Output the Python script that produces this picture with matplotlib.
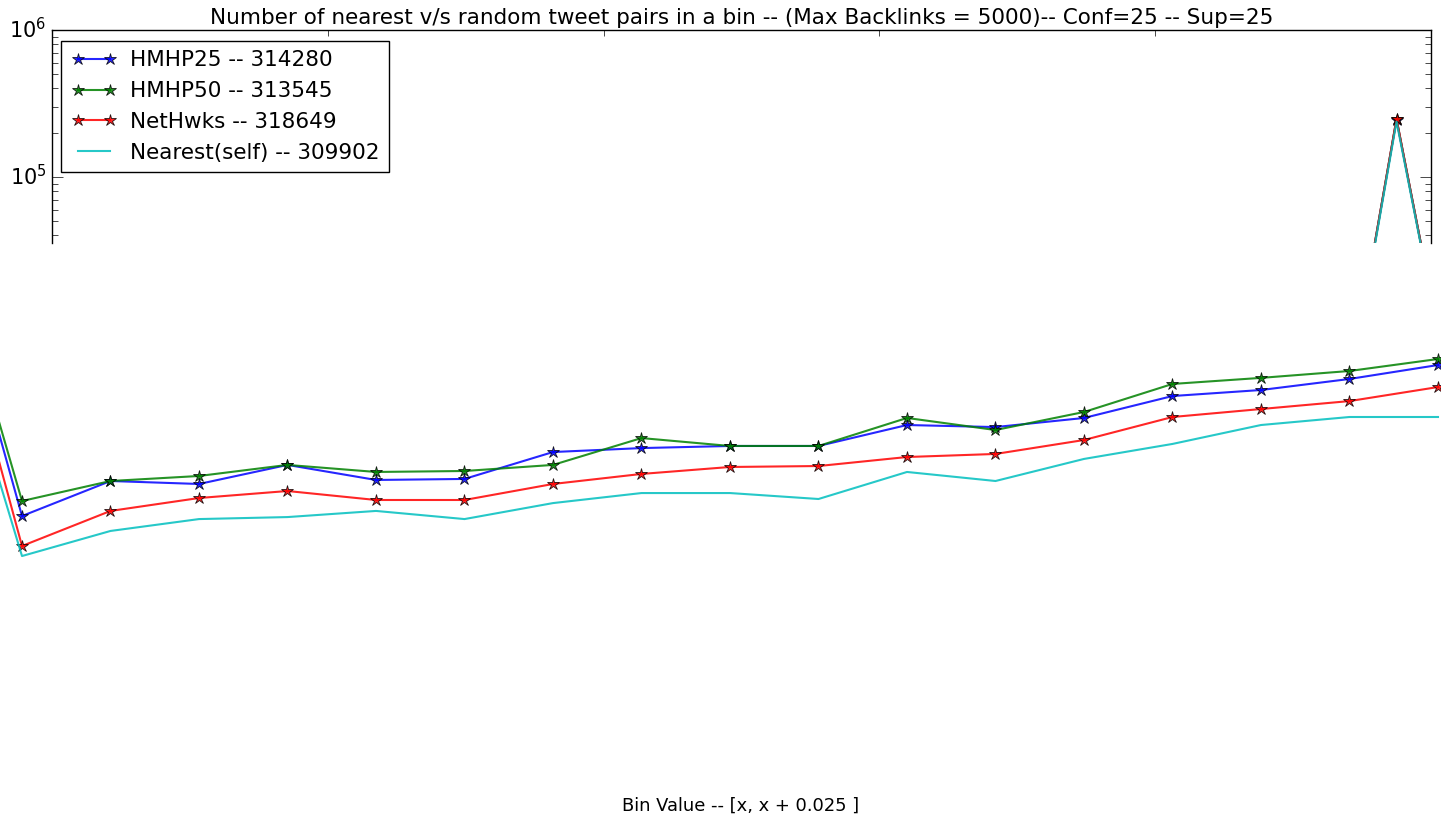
import numpy as np
import matplotlib
matplotlib.use("Agg")
import matplotlib.pyplot as plt

plt.style.use("classic")
plt.rcParams["figure.facecolor"] = "white"
plt.rcParams["savefig.facecolor"] = "white"
plt.rcParams["mathtext.fontset"] = "dejavusans"
plt.rcParams["font.family"] = "DejaVu Sans"

# series names and totals shown in the legend
names = ["HMHP25 -- 314280", "HMHP50 -- 313545", "NetHwks -- 318649", "Nearest(self) -- 309902"]
colors = ["b", "g", "r", "c"]
markers = ["*", "*", "*", None]

# upper panel: the last bins around the spike (bin value, count)
spike_bins = [0.95, 0.975, 1.0]
spike_hmhp25 = [11300, 246000, 15700]
spike_hmhp50 = [11300, 247000, 15700]
spike_nethwks = [11300, 249000, 15700]
spike_nearest = [11000, 238000, 15400]

# lower panel: the run of bins drawn below the frame (bin index, count)
run_bins = list(range(-1, 17))
run_hmhp25 = [71900, 494, 855, 816, 1100, 869, 883, 1346, 1432, 1480, 1480,
              2055, 1990, 2295, 3236, 3556, 4227, 5260]
run_hmhp50 = [74300, 625, 855, 925, 1100, 985, 1000, 1100, 1675, 1480, 1480,
              2295, 1900, 2520, 3910, 4300, 4790, 5780]
run_nethwks = [50900, 309, 535, 655, 731, 635, 635, 816, 955, 1065, 1081,
               1245, 1306, 1625, 2330, 2640, 2990, 3725]
run_nearest = [26000, 264, 391, 471, 486, 535, 471, 605, 708, 708, 645,
               985, 855, 1208, 1528, 2055, 2330, 2330]

W, H = 1441, 822
fig = plt.figure(figsize=(W / 100, H / 100), dpi=100)

# top framed axes (pixel box 52..1431 x 30..243)
ax = fig.add_axes([52 / W, 1 - 243 / H, (1431 - 52) / W, (243 - 30) / H])
# lower frameless axes (pixel box 0..1441 x 243..790)
ax2 = fig.add_axes([0, 1 - 790 / H, 1, (790 - 243) / H], frameon=False)

spike = [spike_hmhp25, spike_hmhp50, spike_nethwks, spike_nearest]
run = [run_hmhp25, run_hmhp50, run_nethwks, run_nearest]

for name, c, m, ys in zip(names, colors, markers, spike):
    ax.plot(spike_bins, ys, color=c, marker=m, markersize=9, lw=1.5,
            markeredgecolor="k", markeredgewidth=0.6, label=name, alpha=0.85)
for c, m, ys in zip(colors, markers, run):
    ax2.plot(run_bins, ys, color=c, marker=m, markersize=9, lw=1.5,
             markeredgecolor="k", markeredgewidth=0.6, alpha=0.85)

ax.set_yscale("log")
ax.set_xlim(0, 1.0)
ax.set_ylim(10 ** 4.551, 1e6)
ax.set_xticks([0.2, 0.4, 0.6, 0.8])
ax.tick_params(axis="x", which="both", bottom=False, labelbottom=False, top=True)
ax.tick_params(axis="y", which="major", labelsize=15, length=8)
ax.tick_params(axis="y", which="minor", length=4)
ax.spines["bottom"].set_visible(False)
ax.set_title("Number of nearest v/s random tweet pairs in a bin -- (Max Backlinks = 5000)-- Conf=25 -- Sup=25",
             fontsize=15.5, pad=4)

leg = ax.legend(loc="upper left", fontsize=15.5, numpoints=2, fancybox=False,
                bbox_to_anchor=(-0.001, 1.0), borderaxespad=0.5, borderpad=0.45,
                handlelength=2.1, handletextpad=0.65, labelspacing=0.5)
leg.get_frame().set_edgecolor("k")

ax2.set_yscale("log")
ax2.set_xlim(-22 / 88.5, (W - 22) / 88.5)
ax2.set_ylim(10 ** 0.830, 10 ** 4.551)
ax2.set_xticks([])
ax2.set_yticks([])
ax2.minorticks_off()

fig.text(741 / W, 1 - 806 / H, "Bin Value -- [x, x + 0.025 ]", ha="center",
         va="center", fontsize=12.9)

fig.savefig("out.png", dpi=100)
